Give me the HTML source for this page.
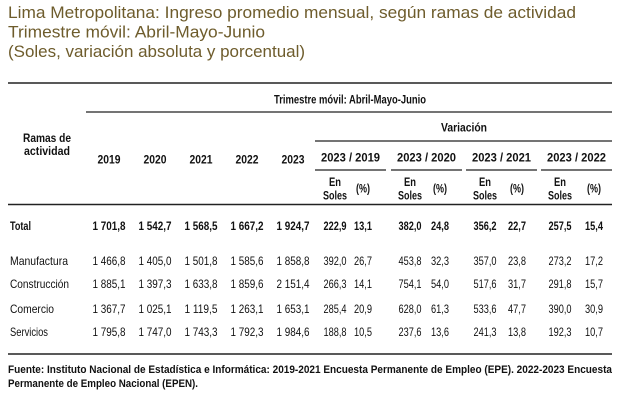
<!DOCTYPE html>
<html><head><meta charset="utf-8">
<style>
html,body{margin:0;padding:0;background:#fff;width:620px;height:401px;overflow:hidden}
svg{display:block}
.t{font-family:"Liberation Sans",sans-serif;fill:#111}
.title{font-family:"Liberation Sans",sans-serif;fill:#6e5c2c;font-size:17px}
</style></head>
<body>
<svg id="tbl" width="620" height="401" xmlns="http://www.w3.org/2000/svg">
<text class="title" x="8" y="18" textLength="568" lengthAdjust="spacingAndGlyphs">Lima Metropolitana: Ingreso promedio mensual, según ramas de actividad</text>
<text class="title" x="8" y="37.5" textLength="257" lengthAdjust="spacingAndGlyphs">Trimestre móvil: Abril-Mayo-Junio</text>
<text class="title" x="8" y="57" textLength="297" lengthAdjust="spacingAndGlyphs">(Soles, variación absoluta y porcentual)</text>
</svg>
<script>
const years = ["2019","2020","2021","2022","2023"];
const pairs = ["2023 / 2019","2023 / 2020","2023 / 2021","2023 / 2022"];
const rows = ["Total","Manufactura","Construcción","Comercio","Servicios"];
const levels = [
  ["1 701,8","1 542,7","1 568,5","1 667,2","1 924,7"],
  ["1 466,8","1 405,0","1 501,8","1 585,6","1 858,8"],
  ["1 885,1","1 397,3","1 633,8","1 859,6","2 151,4"],
  ["1 367,7","1 025,1","1 119,5","1 263,1","1 653,1"],
  ["1 795,8","1 747,0","1 743,3","1 792,3","1 984,6"]
];
const varSoles = [
  ["222,9","382,0","356,2","257,5"],
  ["392,0","453,8","357,0","273,2"],
  ["266,3","754,1","517,6","291,8"],
  ["285,4","628,0","533,6","390,0"],
  ["188,8","237,6","241,3","192,3"]
];
const varPct = [
  ["13,1","24,8","22,7","15,4"],
  ["26,7","32,3","23,8","17,2"],
  ["14,1","54,0","31,7","15,7"],
  ["20,9","61,3","47,7","30,9"],
  ["10,5","13,6","13,8","10,7"]
];
const svg = document.getElementById('tbl');
const NS = "http://www.w3.org/2000/svg";
function txt(x,y,s,opts){
  const t=document.createElementNS(NS,'text');
  t.setAttribute('class','t');
  t.setAttribute('x',x);t.setAttribute('y',y);
  t.setAttribute('font-size',opts.size||11);
  t.setAttribute('text-anchor',opts.anchor||'middle');
  if(opts.bold) t.setAttribute('font-weight','bold');
  if(opts.len){t.setAttribute('textLength',opts.len);t.setAttribute('lengthAdjust','spacingAndGlyphs');}
  t.textContent=s;
  svg.appendChild(t);
  return t;
}
function line(x1,y,x2,w){
  const l=document.createElementNS(NS,'line');
  l.setAttribute('x1',x1);l.setAttribute('x2',x2);l.setAttribute('y1',y);l.setAttribute('y2',y);
  l.setAttribute('stroke','#222');l.setAttribute('stroke-width',w||1.3);
  
  
  svg.appendChild(l);
}
line(8,83,612,1.6);
line(86,112,612);
line(315,141,612);
const pairX=[315,391,466,541];
pairX.forEach(x=>line(x,170,x+71));
line(8,204.5,612,1.6);
line(8,354,612,1.6);

const yearX = i => 109 + i*46;
const solX = i => 335 + i*75;
const pctX = i => 363 + i*77;
const rowY = i => [230,265,288,313,336][i];

let e;
e=txt(350,103.5,"Trimestre móvil: Abril-Mayo-Junio",{bold:true,size:12,len:152});


e=txt(464,131.5,"Variación",{bold:true,size:12,len:46});


e=txt(47,142,"Ramas de",{bold:true,size:12,len:48});


txt(47,155,"actividad",{bold:true,size:12,len:46});
years.forEach((y,i)=>{
  const t=txt(yearX(i),163.5,y,{bold:true,size:12,len:23});
  
  
});
pairs.forEach((p,i)=>{
  const t=txt(pairX[i]+35.5,161.5,p,{bold:true,size:12,len:59});
  
  
  txt(solX(i),186,"En",{bold:true,size:12,len:12});
  txt(solX(i),199.5,"Soles",{bold:true,size:12,len:24});
  txt(pctX(i),192.5,"(%)",{bold:true,size:12,len:14});
});
rows.forEach((r,ri)=>{
  const bold = ri===0;
  const y=rowY(ri);
  const t=txt(10,y,r,{anchor:'start',bold:bold,size:12,len:[21,58,59,44,38][ri]});
  
  
  levels[ri].forEach((v,ci)=>{
    const c=txt(yearX(ci),y,v,{bold:bold,size:12,len:33});
    
    
  });
  varSoles[ri].forEach((v,ci)=>{
    const c=txt(solX(ci),y,v,{bold:bold,size:12,len:23});
    
    
  });
  varPct[ri].forEach((v,ci)=>{
    const c=txt(pctX(ci),y,v,{bold:bold,size:12,len:18});
    
    
  });
});
e=txt(8,373,"Fuente: Instituto Nacional de Estadística e Informática: 2019-2021 Encuesta Permanente de Empleo (EPE). 2022-2023 Encuesta",{anchor:'start',bold:true,size:11,len:604});


txt(8,387,"Permanente de Empleo Nacional (EPEN).",{anchor:'start',bold:true,size:11,len:190});
</script>
</body></html>
